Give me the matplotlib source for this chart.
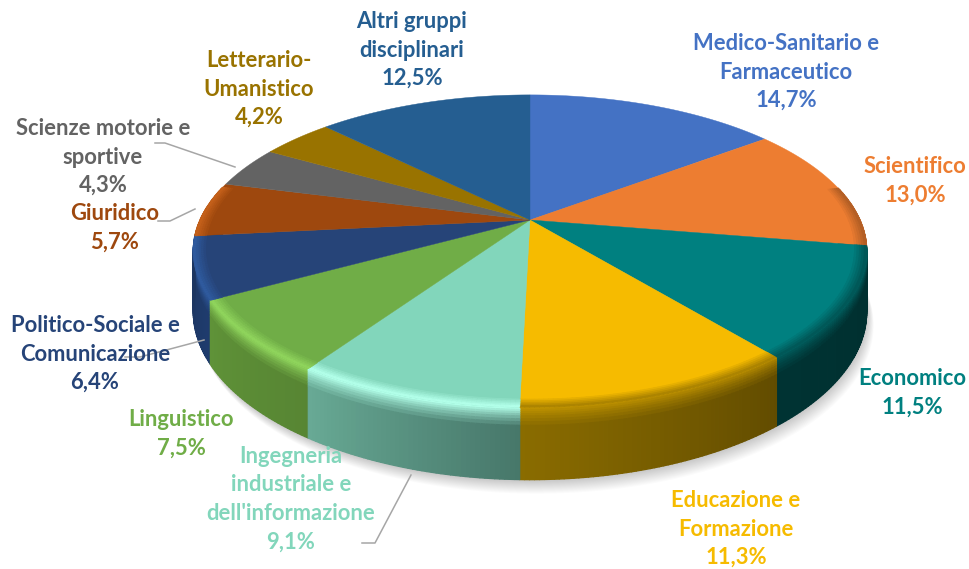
import matplotlib
matplotlib.use("Agg")
import matplotlib.pyplot as plt
import matplotlib.colors as mc
import numpy as np
from matplotlib.collections import PolyCollection

plt.rcParams["font.family"] = ["Lato", "DejaVu Sans"]

# dati
categorie = ["Medico-Sanitario e\nFarmaceutico", "Scientifico", "Economico",
             "Educazione e\nFormazione", "Ingegneria\nindustriale e\ndell'informazione",
             "Linguistico", "Politico-Sociale e\nComunicazione", "Giuridico",
             "Scienze motorie e\nsportive", "Letterario-\nUmanistico",
             "Altri gruppi\ndisciplinari"]
valori = [14.7, 13.0, 11.5, 11.3, 9.1, 7.5, 6.4, 5.7, 4.3, 4.2, 12.5]
etichette_val = ["14,7%", "13,0%", "11,5%", "11,3%", "9,1%", "7,5%", "6,4%", "5,7%", "4,3%", "4,2%", "12,5%"]

colori = ["#4472c4", "#ed7d31", "#008080", "#f6bb00", "#82d6bb", "#70ad47",
          "#264478", "#9e480e", "#636363", "#997300", "#255e91"]
# fianco della torta: colore a sinistra, colore a destra
fianchi = [("#2c4a80", "#2c4a80"), ("#7a4018", "#7a4018"), ("#003333", "#002f2f"),
           ("#8a6c00", "#624c00"), ("#68aa95", "#47776a"), ("#5f9238", "#578533"),
           ("#1c3560", "#1f3c6e"), ("#6b3009", "#6b3009"), ("#444444", "#444444"),
           ("#665000", "#665000"), ("#1a4266", "#1a4266")]
# riflesso sul bordo (None = solo sfumatura)
riflessi = [None, None, None, None, "#b2ffe9", "#8fd45c", "#2f5a9e", "#c4601a", None, None, None]

# posizione etichette in pixel
pos_etichette = [(786, 72), (915, 181), (912, 393), (736, 529), (291, 499),
                 (181, 434), (95, 354), (115, 228), (103, 157), (259, 89), (412, 50)]

# linee guida
guide = [[(155, 143), (165, 143), (235, 167)],
         [(158, 221), (170, 221), (195, 209)],
         [(125, 357), (140, 357), (204, 340)],
         [(362, 543), (375, 543), (411, 475)]]

CX, CY = 530, 220
A, B, K = 330, 150, 0.199   # semiassi e prospettiva
SPESSORE = 58


def proietta(theta, r=1.0, t=0.0):
    u = r * np.sin(theta)
    v = -r * np.cos(theta)
    den = 1 - K * v
    return CX + A * u / den, CY + (B * v + SPESSORE * t) / den


def mix(c1, c2, f):
    return tuple((1 - f) * np.array(mc.to_rgb(c1)) + f * np.array(mc.to_rgb(c2)))


fig = plt.figure(figsize=(9.7, 5.69), dpi=100, facecolor="white")
ax = fig.add_axes([0, 0, 1, 1])
ax.set_xlim(0, 970)
ax.set_ylim(569, 0)
ax.axis("off")

frazioni = np.cumsum([0] + valori) / sum(valori)
angoli = frazioni * 2 * np.pi

# ombra
tt = np.linspace(0, 2 * np.pi, 240)
for d in range(1, 15):
    x, y = proietta(tt, t=1.0)
    ax.fill(x + d * 0.5, y + d, color="black", alpha=0.014, lw=0, zorder=1)

# fianchi con sfumatura, a bande; prima quelli piu' indietro
BANDE_T = [0, .03, .06, .09, .12, .16, .20, .25, 1]
BANDE_R = [.965, .972, .979, .986, .993, 1.0]
medi = (angoli[:-1] + angoli[1:]) / 2
for i in np.argsort(-np.cos(medi)):
    a0, a1 = angoli[i], angoli[i + 1]
    n = max(4, int((a1 - a0) / 0.012))
    th = np.linspace(a0, a1, n + 1)
    polys, cols = [], []
    for j in range(n):
        if -np.cos(th[j]) < -0.22 and -np.cos(th[j + 1]) < -0.22:
            continue
        f_x = (j + 0.5) / n
        lato = mix(fianchi[i][1], fianchi[i][0], f_x)
        for k in range(len(BANDE_T) - 1):
            t0, t1 = BANDE_T[k], BANDE_T[k + 1]
            x0, y0 = proietta(th[j], t=t0)
            x1, y1 = proietta(th[j + 1], t=t0)
            x2, y2 = proietta(th[j + 1], t=t1)
            x3, y3 = proietta(th[j], t=t1)
            polys.append([(x0, y0), (x1, y1), (x2, y2), (x3, y3)])
            f = min(1, k / (len(BANDE_T) - 2))
            base = riflessi[i] if riflessi[i] else mix(colori[i], lato, 0.5)
            cols.append(mix(base, lato, f))
    ax.add_collection(PolyCollection(polys, facecolors=cols, edgecolors=cols, linewidths=0.9, zorder=2))

# spicchi superiori
for i in range(len(valori)):
    th = np.linspace(angoli[i], angoli[i + 1], 80)
    x, y = proietta(th)
    ax.fill(np.r_[CX, x], np.r_[CY, y], color=colori[i], lw=0.3, zorder=3)

# bordo smussato sopra
for i in range(len(valori)):
    a0, a1 = angoli[i], angoli[i + 1]
    n = max(4, int((a1 - a0) / 0.012))
    th = np.linspace(a0, a1, n + 1)
    polys, cols = [], []
    fine = riflessi[i] if riflessi[i] else mix(colori[i], fianchi[i][1], 0.5)
    for j in range(n):
        if -np.cos(th[j]) < -0.22 and -np.cos(th[j + 1]) < -0.22:
            continue
        for k in range(len(BANDE_R) - 1):
            r0, r1 = BANDE_R[k], BANDE_R[k + 1]
            x0, y0 = proietta(th[j], r=r0)
            x1, y1 = proietta(th[j + 1], r=r0)
            x2, y2 = proietta(th[j + 1], r=r1)
            x3, y3 = proietta(th[j], r=r1)
            polys.append([(x0, y0), (x1, y1), (x2, y2), (x3, y3)])
            cols.append(mix(colori[i], fine, (k + 1) / (len(BANDE_R) - 1)))
    ax.add_collection(PolyCollection(polys, facecolors=cols, edgecolors=cols, linewidths=0.6, zorder=4))

# linee guida
for g in guide:
    xs, ys = zip(*g)
    ax.plot(xs, ys, color="#a6a6a6", lw=1.1, zorder=5)

# etichette
for nome, val, col, (x, y) in zip(categorie, etichette_val, colori, pos_etichette):
    ax.text(x, y, nome + "\n" + val, color=col, fontsize=15.8, fontweight="bold",
            ha="center", va="center", linespacing=1.45, zorder=6)

fig.savefig("out.png", dpi=100, facecolor="white")
